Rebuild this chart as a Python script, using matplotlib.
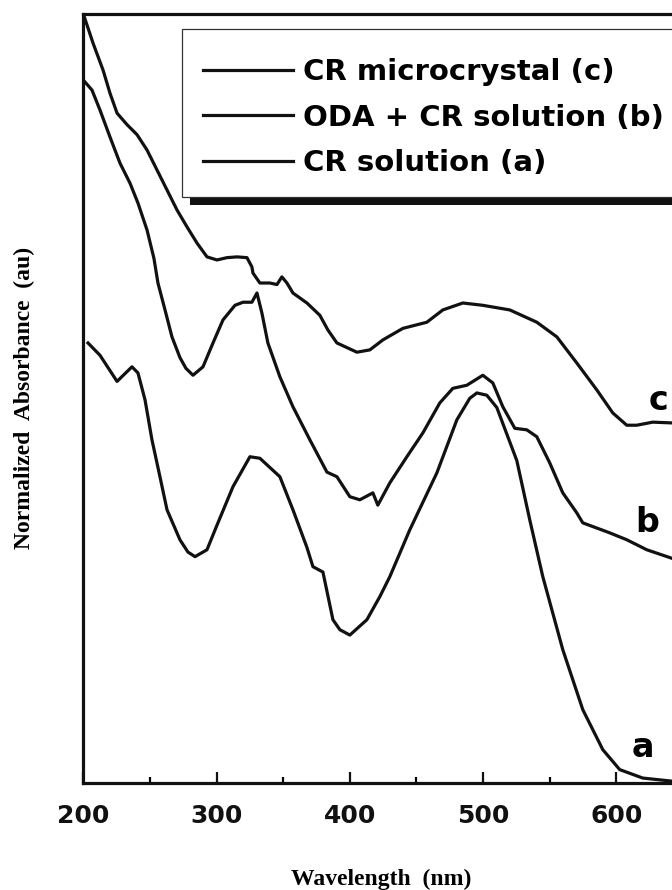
import matplotlib.pyplot as plt
from matplotlib.patches import Rectangle
from matplotlib.ticker import MultipleLocator

# Values (normalised absorbance, arbitrary units)
wl_c = [200, 207.3, 214.8, 220.0, 225.3, 232.8, 240.3, 247.8, 255.3, 262.8, 270.3,
        277.8, 285.3, 292.8, 300.3, 307.8, 315.3, 322.8, 326.5, 327.3, 332.5, 340.0,
        345.3, 349.0, 352.8, 357.3, 367.8, 377.5, 383.5, 390.3, 405.3, 415.0, 424.8,
        439.8, 457.8, 469.8, 484.8, 499.8, 520.0, 540.3, 555.3, 570.3, 585.3, 597.3,
        607.8, 615.3, 627.3, 641.5, 647]
abs_c = [1.0, 0.962, 0.927, 0.897, 0.871, 0.856, 0.843, 0.823, 0.797, 0.771, 0.745,
         0.723, 0.702, 0.684, 0.680, 0.683, 0.684, 0.683, 0.671, 0.663, 0.650, 0.650,
         0.648, 0.658, 0.650, 0.637, 0.624, 0.608, 0.589, 0.572, 0.560, 0.563, 0.576,
         0.591, 0.599, 0.615, 0.624, 0.621, 0.615, 0.599, 0.580, 0.546, 0.511, 0.481,
         0.465, 0.465, 0.469, 0.468, 0.467]

wl_b = [200, 206.5, 212.5, 220.0, 227.5, 235.0, 241.0, 247.8, 253.0, 256.0, 261.3,
        266.5, 272.5, 277.0, 282.3, 289.8, 297.3, 304.8, 313.8, 319.8, 326.5, 330.3,
        334.0, 338.5, 347.5, 357.3, 370.0, 382.8, 390.3, 400.0, 407.5, 417.3, 421.0,
        430.0, 442.8, 454.8, 467.5, 477.3, 487.8, 499.8, 507.3, 514.8, 523.8, 532.8,
        540.3, 550.0, 559.8, 570.3, 574.8, 595.0, 607.8, 622.8, 641.5, 647]
abs_b = [0.914, 0.901, 0.875, 0.840, 0.806, 0.780, 0.754, 0.719, 0.682, 0.650, 0.615,
         0.580, 0.553, 0.539, 0.530, 0.541, 0.572, 0.602, 0.621, 0.625, 0.625, 0.637,
         0.611, 0.572, 0.528, 0.489, 0.446, 0.404, 0.398, 0.372, 0.368, 0.377, 0.361,
         0.390, 0.424, 0.455, 0.494, 0.513, 0.517, 0.530, 0.520, 0.489, 0.461, 0.459,
         0.450, 0.416, 0.377, 0.351, 0.338, 0.325, 0.316, 0.303, 0.292, 0.288]

wl_a = [203.5, 212.5, 225.3, 236.5, 241.0, 246.3, 251.5, 257.5, 262.8, 272.5, 278.5,
        283.8, 292.8, 300.3, 312.3, 325.0, 332.5, 347.5, 357.3, 367.8, 372.3, 379.8,
        387.3, 392.5, 400.0, 412.8, 422.5, 430.0, 445.0, 465.3, 480.3, 490.0, 495.3,
        502.8, 510.3, 525.3, 535.0, 544.8, 559.8, 574.8, 589.8, 602.5, 619.8, 641.5, 647]
abs_a = [0.572, 0.556, 0.522, 0.541, 0.533, 0.498, 0.446, 0.398, 0.355, 0.316, 0.300,
         0.294, 0.303, 0.335, 0.385, 0.424, 0.422, 0.398, 0.355, 0.306, 0.281, 0.274,
         0.212, 0.199, 0.192, 0.212, 0.242, 0.268, 0.329, 0.403, 0.472, 0.500, 0.507,
         0.504, 0.488, 0.419, 0.342, 0.268, 0.173, 0.095, 0.043, 0.017, 0.006, 0.002, 0.002]

legend_labels = ['CR microcrystal (c)', 'ODA + CR solution (b)', 'CR solution (a)']

lw = 2.3
col = '#111111'

fig = plt.figure(figsize=(6.72, 8.9), dpi=100)
ax = fig.add_axes([0.124, 0.1206, 0.8864, 0.8637])

lc, = ax.plot(wl_c, abs_c, color=col, lw=lw)
lb, = ax.plot(wl_b, abs_b, color=col, lw=lw)
la, = ax.plot(wl_a, abs_a, color=col, lw=lw)

ax.text(631.5, 0.485, 'c', fontsize=24, fontweight='bold', ha='center', va='baseline')
ax.text(623.5, 0.326, 'b', fontsize=24, fontweight='bold', ha='center', va='baseline')
ax.text(620, 0.034, 'a', fontsize=24, fontweight='bold', ha='center', va='baseline')

ax.set_xlim(200, 647)
ax.set_ylim(0, 1)
ax.xaxis.set_major_locator(MultipleLocator(100))
ax.xaxis.set_minor_locator(MultipleLocator(50))
ax.set_yticks([])
ax.tick_params(axis='x', which='major', direction='in', length=8, width=1.6,
               labelsize=18, pad=15.5, colors=col)
ax.tick_params(axis='x', which='minor', direction='in', length=4.5, width=1.6)
for lab in ax.get_xticklabels():
    lab.set_fontweight('bold')
for sp in ax.spines.values():
    sp.set_linewidth(2.3)
    sp.set_color(col)

ax.set_xlabel('Wavelength  (nm)', fontsize=17, fontweight='bold', family='Liberation Serif',
              va='baseline')
ax.xaxis.set_label_coords(0.5, -0.133)
ax.set_ylabel('Normalized  Absorbance  (au)', fontsize=17, fontweight='bold',
              family='Liberation Serif', va='center', ha='center')
ax.yaxis.set_label_coords(-0.0995, 0.5)

# legend frame with a solid black drop shadow
fig.add_artist(Rectangle((0.2823, 0.7697), 0.8, 0.1887, transform=fig.transFigure,
                         facecolor=col, edgecolor='none', zorder=2))
fig.add_artist(Rectangle((0.2704, 0.7787), 0.8, 0.1887, transform=fig.transFigure,
                         facecolor='white', edgecolor='#333333', lw=0.9, zorder=3))
leg = fig.legend([lc, lb, la], legend_labels, loc='upper left',
                 bbox_to_anchor=(0.3021, 0.935), frameon=False, borderpad=0,
                 borderaxespad=0, handlelength=3.09, handletextpad=0.34,
                 labelspacing=0.61, prop={'size': 21, 'weight': 'bold'})
leg.set_zorder(5)

fig.savefig('out.png', dpi=100)
